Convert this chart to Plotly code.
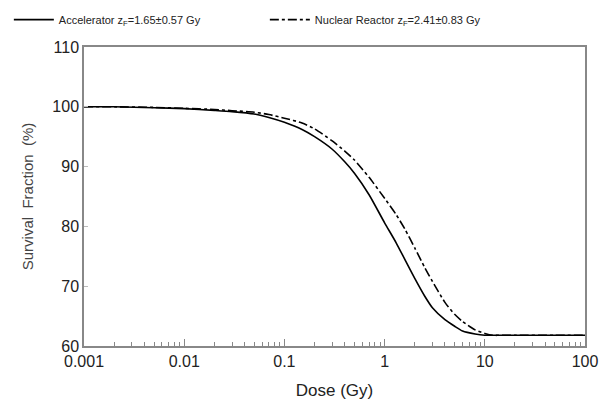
import plotly.graph_objects as go

# dose points (Gy) and survival fraction (%)
dose = [0.001, 0.002, 0.005, 0.01, 0.02, 0.03, 0.05, 0.07, 0.1, 0.15, 0.2, 0.3, 0.4,
        0.5, 0.7, 1.0, 1.3, 1.6, 2.0, 2.5, 3.0, 4.0, 5.0, 6.0, 8.0, 10, 12, 15, 20, 50, 100]
accelerator = [100.0, 100.0, 99.85, 99.7, 99.4, 99.2, 98.8, 98.2, 97.4, 96.2, 95.0, 92.9, 90.8,
               88.9, 85.3, 80.6, 77.3, 74.4, 71.3, 68.4, 66.4, 64.4, 63.3, 62.5, 62.0, 61.8,
               61.8, 61.8, 61.8, 61.8, 61.8]
reactor = [100.0, 100.0, 99.9, 99.75, 99.55, 99.35, 99.1, 98.7, 98.1, 97.3, 96.3, 94.3, 92.6,
           91.1, 88.2, 84.7, 82.0, 79.5, 76.4, 73.2, 70.8, 67.3, 65.3, 64.1, 62.7, 62.1,
           61.8, 61.8, 61.8, 61.8, 61.8]

x_ticks = [0.001, 0.01, 0.1, 1, 10, 100]
x_labels = ["0.001", "0.01", "0.1", "1", "10", "100"]
minor_ticks = [m * d for d in [0.001, 0.01, 0.1, 1, 10] for m in range(2, 10)]

fig = go.Figure()
fig.add_trace(go.Scatter(x=dose, y=accelerator, mode="lines",
                         name="Accelerator z<sub>F</sub>=1.65±0.57 Gy",
                         line=dict(color="black", width=1.6, shape="spline", smoothing=0.6)))
fig.add_trace(go.Scatter(x=dose, y=reactor, mode="lines",
                         name="Nuclear Reactor z<sub>F</sub>=2.41±0.83 Gy",
                         line=dict(color="black", width=1.6, dash="dashdot",
                                   shape="spline", smoothing=0.6)))

fig.update_layout(
    width=603, height=408,
    margin=dict(l=84, r=18, t=47, b=62, autoexpand=False),
    paper_bgcolor="white", plot_bgcolor="white",
    font=dict(family="Liberation Sans, Arial, sans-serif", color="#222"),
    showlegend=True,
    legend=dict(orientation="h", x=-0.15, y=1.14, yanchor="top", xanchor="left",
                font=dict(size=11), itemwidth=40,
                entrywidth=201, tracegroupgap=0, bgcolor="rgba(0,0,0,0)"),
)
fig.update_xaxes(
    type="log", range=[-3, 2], automargin=False,
    tickvals=x_ticks, ticktext=x_labels,
    ticks="inside", ticklen=7, tickcolor="#888",
    minor=dict(tickvals=minor_ticks, ticks="inside", ticklen=4, tickcolor="#888", showgrid=False),
    showline=True, linecolor="#888", linewidth=1.5, mirror=True,
    showgrid=False, zeroline=False,
    tickfont=dict(size=16),
    title=dict(text="Dose (Gy)", font=dict(size=17)),
)
fig.update_yaxes(
    range=[60, 110], dtick=10, automargin=False,
    ticks="inside", ticklen=4, tickcolor="#bbb",
    showline=True, linecolor="#888", linewidth=1.5, mirror=True,
    showgrid=False, zeroline=False,
    tickfont=dict(size=16),
    title=dict(text="Survival  Fraction  (%)", font=dict(size=15, color="#444")),
)

fig.write_html("out.html", config={"displayModeBar": False},
               post_script="document.body.style.margin='0';")
